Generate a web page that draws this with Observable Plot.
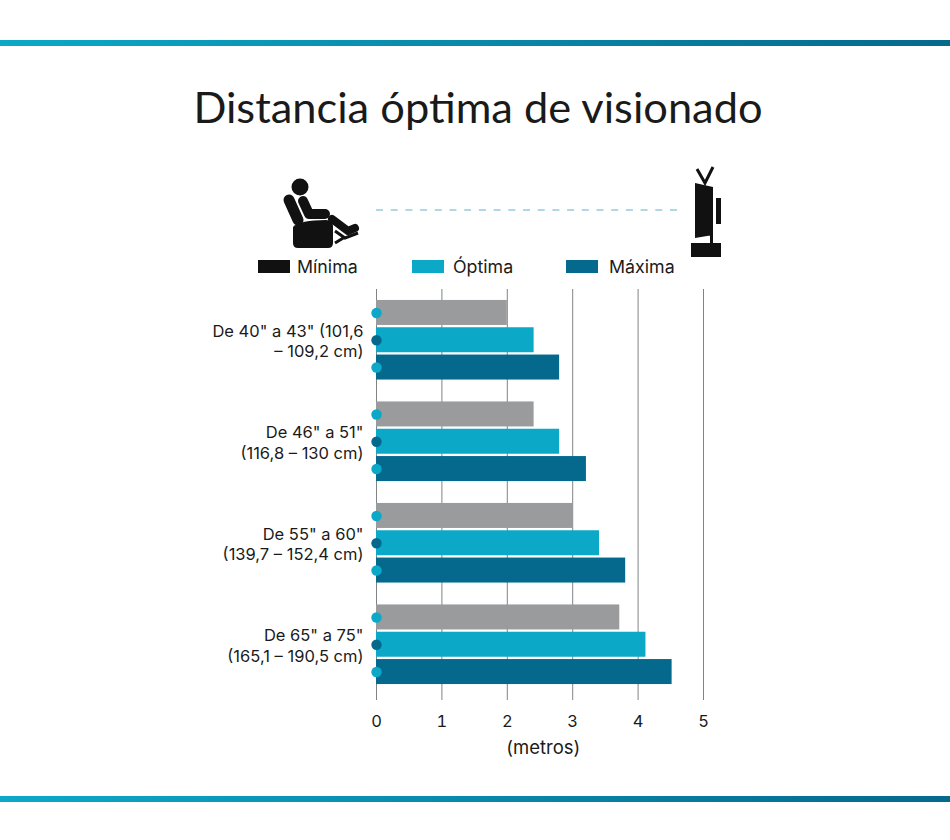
<!DOCTYPE html>
<html>
<head>
<meta charset="utf-8">
<script src="https://cdn.jsdelivr.net/npm/d3@7"></script>
<script src="https://cdn.jsdelivr.net/npm/@observablehq/plot@0.6"></script>
<style>
  body { margin: 0; background: #fff; }
  #page { position: relative; width: 950px; height: 840px; overflow: hidden; font-family: Inter, sans-serif; color: #1a1a1a; }
  .band { position: absolute; left: 0; width: 950px; height: 6px; background: linear-gradient(to right, #0ca8c8, #05698d); }
  #title { position: absolute; left: 0; width: 956px; top: 80px; text-align: center; font: 43.4px Lato, sans-serif; color: #1a1a1a; }
  #icons { position: absolute; left: 0; top: 0; }
  #legend span { position: absolute; top: 256px; font-size: 17.8px; line-height: 22px; }
  #legend i { position: absolute; top: 260px; width: 32px; height: 13px; }
  #chart { position: absolute; left: 0; top: 288px; }
</style>
</head>
<body>
<div id="page">
  <div class="band" style="top:40px"></div>
  <div id="title">Distancia óptima de visionado</div>
  <svg id="icons" width="950" height="288">
    <!-- sillon -->
    <circle cx="300" cy="187" r="8.5" fill="#111"/>
    <path d="M289 200L298 220" stroke="#111" stroke-width="11" stroke-linecap="round" fill="none"/>
    <path d="M303 201L309 214L325 214" stroke="#111" stroke-width="10" stroke-linecap="round" stroke-linejoin="round" fill="none"/>
    <path d="M293 227Q300 220 326 220Q333 220 333 226V243Q333 248 328 248H298Q293 248 293 243Z" fill="#111"/>
    <path d="M332 219L348 231L355 228" stroke="#111" stroke-width="8" stroke-linecap="round" stroke-linejoin="round" fill="none"/>
    <path d="M335 231L345 238L358 233M345 237L335 243" stroke="#111" stroke-width="3" fill="none"/>
    <!-- linea -->
    <path d="M376 210H681" stroke="#5fb2cd" stroke-width="1.2" stroke-dasharray="7 7.7"/>
    <!-- tele -->
    <path d="M697 169L705 183L713 167" stroke="#111" stroke-width="3" fill="none"/>
    <path d="M695 183L713 187V235L695 238Z M710 235H713V243H710Z M691 243H721V257H691Z M716 198H721V224H716Z" fill="#111"/>
  </svg>
  <div id="legend"></div>
  <div id="chart"></div>
  <div class="band" style="top:796px"></div>
</div>
<script>
const ranges = [
  'De 40" a 43" (101,6\n– 109,2 cm)',
  'De 46" a 51"\n(116,8 – 130 cm)',
  'De 55" a 60"\n(139,7 – 152,4 cm)',
  'De 65" a 75"\n(165,1 – 190,5 cm)'
]
const minima = [2, 2.41, 3, 3.72]
const optima = [2.41, 2.8, 3.41, 4.12]
const maxima = [2.8, 3.21, 3.81, 4.52]
const ticks = [0, 1, 2, 3, 4, 5]

const gray = "#999b9c", teal = "#0ca8c8", dark = "#05698d"

function rows(values){
  return values.map((v, i) => ({range: ranges[i], value: v}))
}

// three bars per band, moved up and down with dy
function bars(values, fill, dotFill, dy){
  return [
    Plot.barX(rows(values), {x: "value", y: "range", fill: fill, dy: dy, insetTop: 38.25, insetBottom: 38.25}),
    Plot.dot(rows(values), {x: 0, y: "range", r: 5.2, fill: dotFill, dy: dy})
  ]
}

const chart = Plot.plot({
  width: 950,
  height: 552,
  marginLeft: 376,
  marginRight: 247,
  marginTop: 1,
  marginBottom: 145,
  style: {fontFamily: "Inter, sans-serif", fontSize: "16.5px", color: "#1a1a1a", background: "transparent"},
  x: {domain: [0, 5]},
  y: {domain: ranges, padding: 0, round: false},
  marks: [
    Plot.ruleX(ticks, {stroke: "#808486", strokeWidth: 1}),
    bars(minima, gray, teal, -27.3),
    bars(optima, teal, dark, 0),
    bars(maxima, dark, teal, 27.3),
    Plot.axisX({ticks: ticks, tickSize: 5, tickPadding: 15, stroke: "#808486", label: null, fill: "#1a1a1a", tickFormat: d => d}),
    Plot.axisY({tickSize: 0, tickPadding: 13, label: null, lineHeight: 1.25, tickFormat: d => d, fill: "#1a1a1a"}),
    Plot.text(["(metros)"], {x: () => 2.55, frameAnchor: "bottom", dy: 58, fontSize: 18.5, fill: "#1a1a1a"})
  ]
})
document.querySelector("#chart").append(chart)

const legend = [["Mínima", "#111", 258, 297], ["Óptima", teal, 412, 453], ["Máxima", dark, 566, 609]]
d3.select("#legend").selectAll("i").data(legend).join("i")
  .style("left", d => d[2] + "px").style("background", d => d[1])
d3.select("#legend").selectAll("span").data(legend).join("span")
  .style("left", d => d[3] + "px").text(d => d[0])
</script>
</body>
</html>
